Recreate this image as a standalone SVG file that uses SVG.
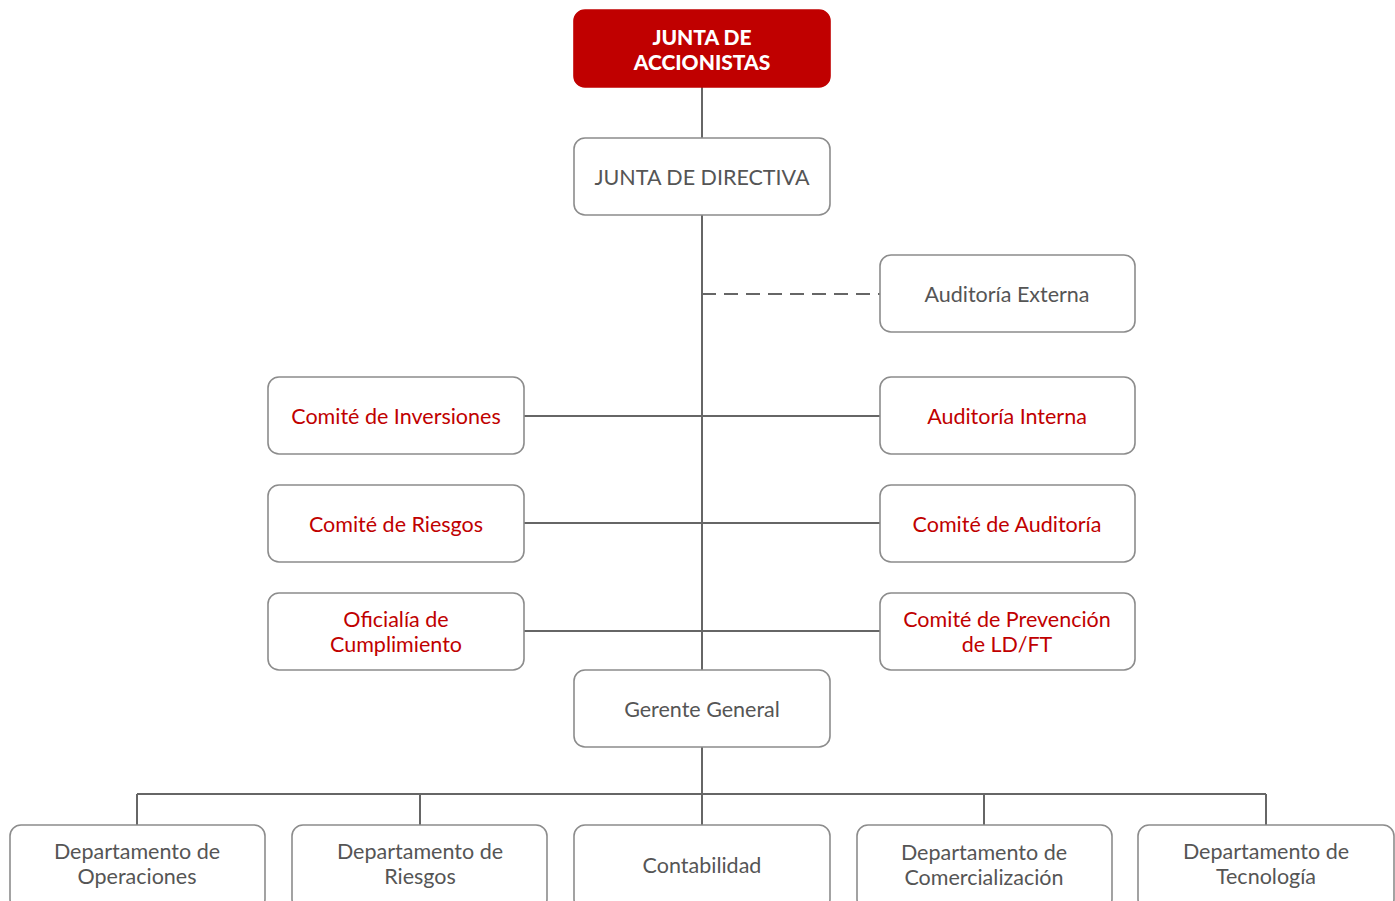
<svg xmlns="http://www.w3.org/2000/svg" width="1395" height="901" viewBox="0 0 1395 901">
<style>
.box{fill:#fff;stroke:#8c8c8c;stroke-width:1.6}
.red{fill:#c00000;stroke:#c00000;stroke-width:1.6}
.t{font-family:Lato,"Liberation Sans",sans-serif;font-size:21.5px;fill:#555;text-anchor:middle;dominant-baseline:central}
.tr{fill:#c00000}
.tw{fill:#fff;font-weight:900;font-size:21px}
.c{stroke:#666;stroke-width:2;fill:none}
</style>
<rect width="1395" height="901" fill="#fff"/>
<g id="connectors">
<path class="c" d="M702 87V670M702 747V825M137 794H1266M137 794V825M420 794V825M984 794V825M1266 794V825M524 416H880M524 523H880M524 631H880"/>
<path class="c" d="M702 294H880" stroke-dasharray="14 8"/>
</g>
<g id="junta-accionistas"><rect class="red" x="574" y="10" width="256" height="77" rx="11"/><text class="t tw" x="702" y="36">JUNTA DE</text><text class="t tw" x="702" y="61">ACCIONISTAS</text></g>
<g id="junta-directiva"><rect class="box" x="574" y="138" width="256" height="77" rx="11"/><text class="t" x="702" y="177">JUNTA DE DIRECTIVA</text></g>
<g id="auditoria-externa"><rect class="box" x="880" y="255" width="255" height="77" rx="11"/><text class="t" x="1007" y="294">Auditoría Externa</text></g>
<g id="comite-inversiones"><rect class="box" x="268" y="377" width="256" height="77" rx="11"/><text class="t tr" x="396" y="416">Comité de Inversiones</text></g>
<g id="auditoria-interna"><rect class="box" x="880" y="377" width="255" height="77" rx="11"/><text class="t tr" x="1007" y="416">Auditoría Interna</text></g>
<g id="comite-riesgos"><rect class="box" x="268" y="485" width="256" height="77" rx="11"/><text class="t tr" x="396" y="524">Comité de Riesgos</text></g>
<g id="comite-auditoria"><rect class="box" x="880" y="485" width="255" height="77" rx="11"/><text class="t tr" x="1007" y="524">Comité de Auditoría</text></g>
<g id="oficialia"><rect class="box" x="268" y="593" width="256" height="77" rx="11"/><text class="t tr" x="396" y="619">Oficialía de</text><text class="t tr" x="396" y="644">Cumplimiento</text></g>
<g id="comite-prevencion"><rect class="box" x="880" y="593" width="255" height="77" rx="11"/><text class="t tr" x="1007" y="619">Comité de Prevención</text><text class="t tr" x="1007" y="644">de LD/FT</text></g>
<g id="gerente-general"><rect class="box" x="574" y="670" width="256" height="77" rx="11"/><text class="t" x="702" y="709">Gerente General</text></g>
<g id="dep-operaciones"><rect class="box" x="10" y="825" width="255" height="85" rx="11"/><text class="t" x="137" y="851">Departamento de</text><text class="t" x="137" y="876">Operaciones</text></g>
<g id="dep-riesgos"><rect class="box" x="292" y="825" width="255" height="85" rx="11"/><text class="t" x="420" y="851">Departamento de</text><text class="t" x="420" y="876">Riesgos</text></g>
<g id="contabilidad"><rect class="box" x="574" y="825" width="256" height="85" rx="11"/><text class="t" x="702" y="865">Contabilidad</text></g>
<g id="dep-comercializacion"><rect class="box" x="857" y="825" width="255" height="85" rx="11"/><text class="t" x="984" y="852">Departamento de</text><text class="t" x="984" y="877">Comercialización</text></g>
<g id="dep-tecnologia"><rect class="box" x="1138" y="825" width="256" height="85" rx="11"/><text class="t" x="1266" y="851">Departamento de</text><text class="t" x="1266" y="876">Tecnología</text></g>
</svg>
